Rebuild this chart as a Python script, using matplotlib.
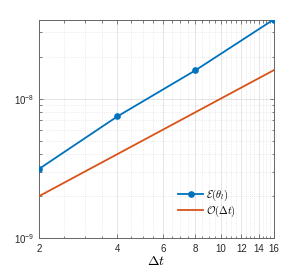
import matplotlib
matplotlib.use('Agg')
import numpy as np
import matplotlib.pyplot as plt
from matplotlib.ticker import FixedLocator, NullFormatter, LogLocator, FixedFormatter
from matplotlib.font_manager import FontProperties

# data
dt = [2, 4, 8, 16]
err = [3.14e-9, 7.46e-9, 1.6e-8, 3.7e-8]
ref_dt = [2, 16]
ref = [2.0e-9, 1.6e-8]
xticks = [2, 4, 6, 8, 10, 12, 14, 16]

plt.rcParams['font.family'] = ['Liberation Sans', 'DejaVu Sans']
plt.rcParams['mathtext.fontset'] = 'custom'
plt.rcParams['mathtext.rm'] = 'Liberation Sans'
plt.rcParams['mathtext.it'] = 'Liberation Sans:italic'

blue = '#0072BD'
orange = '#D95319'

fig = plt.figure(figsize=(3.02, 2.68), dpi=100)
ax = fig.add_axes([0.130, 0.112, 0.776, 0.815])

ax.plot(dt, err, '-o', color=blue, lw=1.3, ms=3.8, label=r'$\mathcal{E}(\theta_l)$', zorder=3)
ax.plot(ref_dt, ref, '-', color=orange, lw=1.3, label=r'$\mathcal{O}(\Delta t)$', zorder=3)

ax.set_xscale('log')
ax.set_yscale('log')
ax.set_xlim(2, 16)
ax.set_ylim(1e-9, 3.7e-8)

ax.xaxis.set_major_locator(FixedLocator(xticks))
ax.xaxis.set_major_formatter(FixedFormatter([str(t) for t in xticks]))
ax.xaxis.set_minor_locator(FixedLocator(np.arange(2, 16.01, 0.5)))
ax.xaxis.set_minor_formatter(NullFormatter())

ax.yaxis.set_major_locator(FixedLocator([1e-9, 1e-8]))
ax.yaxis.set_major_formatter(FixedFormatter([r'$10^{-9}$', r'$10^{-8}$']))
ax.yaxis.set_minor_locator(LogLocator(base=10, subs=np.arange(2, 10), numticks=20))
ax.yaxis.set_minor_formatter(NullFormatter())

ax.tick_params(which='both', direction='in', top=True, right=True,
               colors='0.3', labelcolor='0.15', labelsize=7, width=0.5)
ax.tick_params(which='major', length=3)
ax.tick_params(which='minor', length=1.8)
ax.tick_params(axis='x', pad=4)

ax.grid(True, which='major', color='0.88', lw=0.6, ls='-')
ax.grid(True, which='minor', color='0.85', lw=0.5, ls=(0, (1, 2)))
ax.set_axisbelow(True)
for s in ax.spines.values():
    s.set_color('0.4')
    s.set_linewidth(0.7)

cm_font = FontProperties(size=7.5, math_fontfamily='cm')
ax.set_xlabel(r'$\Delta t$', fontproperties=FontProperties(size=10, math_fontfamily='cm'), labelpad=0)
leg = ax.legend(prop=cm_font, frameon=False, loc='lower right',
                bbox_to_anchor=(0.855, 0.068), handlelength=2.4,
                handletextpad=0.25, labelspacing=0.1, borderaxespad=0)

fig.savefig('out.png', dpi=100)
